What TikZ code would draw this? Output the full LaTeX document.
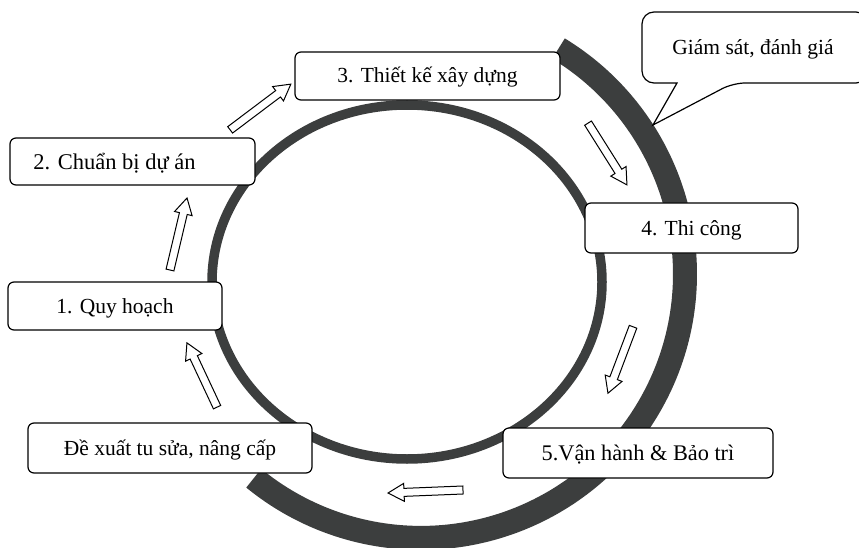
\documentclass[tikz,border=0pt]{standalone}
\usepackage{fontspec}
\setmainfont{Liberation Serif}
\definecolor{ringgray}{RGB}{60,62,62}
\newcommand{\hollowarrow}[4]{%
  \begin{scope}[shift={(#1,#2)}, rotate=#3]
    \pgfmathsetmacro\hl{#4/2}\pgfmathsetmacro\hb{#4/2-16}
    \draw[blk] (-\hl,-4) -- (\hb,-4) -- (\hb,-9) -- (\hl,0) -- (\hb,9) -- (\hb,4) -- (-\hl,4) -- cycle;
  \end{scope}}
\begin{document}
\begin{tikzpicture}[x=1pt,y=-1pt,
  ring/.style={draw=ringgray, line width=9.5pt},
  band/.style={draw=ringgray, line width=24pt, line cap=butt},
  stage/.style={draw=black, line width=1.2pt, rounded corners=6pt, fill=white, inner sep=0pt,
    font=\fontsize{21.5}{24}\selectfont, text height=19pt, text depth=5pt},
  blk/.style={draw=black, line width=1pt, fill=white, line join=miter}]
\useasboundingbox (0,0) rectangle (859,548);
% outer monitoring band
\draw[band] (558.5,48.6) arc[start angle=58.6, end angle=-129.3, radius=264pt];
% inner cycle ring
\draw[ring] (407,282) ellipse [x radius=195pt, y radius=177pt];
% hollow block arrows
\hollowarrow{178.5}{234}{76.7}{74}
\hollowarrow{260.5}{107}{37}{76}
\hollowarrow{607.5}{154}{-57.8}{73}
\hollowarrow{620.5}{360}{-110.7}{71}
\hollowarrow{425.5}{491.5}{182.3}{75}
\hollowarrow{202}{375}{115.1}{71}
% stage boxes
\node[stage, minimum width=214pt, minimum height=48pt] (s1) at (115,306) {1. Quy hoạch};
\node[stage, minimum width=245pt, minimum height=47pt, font=\fontsize{22.5}{25}\selectfont, text height=20pt, text depth=4pt] (s2) at (132.5,161.5) {\hspace*{-36pt}2. Chuẩn bị dự án};
\node[stage, minimum width=265pt, minimum height=48pt] (s3) at (427.5,76) {3. Thiết kế xây dựng};
\node[stage, minimum width=213pt, minimum height=50pt] (s4) at (691.5,228) {4. Thi công};
\node[stage, minimum width=270pt, minimum height=50pt, font=\fontsize{22.3}{25}\selectfont] (s5) at (638,453) {5.Vận hành \& Bảo trì};
\node[stage, minimum width=284pt, minimum height=50pt] (s6) at (170,448) {Đề xuất tu sửa, nâng cấp};
% callout
\coordinate (tip) at (653,125);
\draw[line width=1.2pt, fill=white, rounded corners=12pt] (677,83) -- (642,83) -- (642,12) -- (868,12) -- (868,83) -- (733,83) [sharp corners] -- (tip) -- cycle;
\node[font=\fontsize{21.5}{24}\selectfont, text height=19pt, text depth=5pt, inner sep=0pt] (gs) at (753,48) {Giám sát, đánh giá};
\end{tikzpicture}
\end{document}
